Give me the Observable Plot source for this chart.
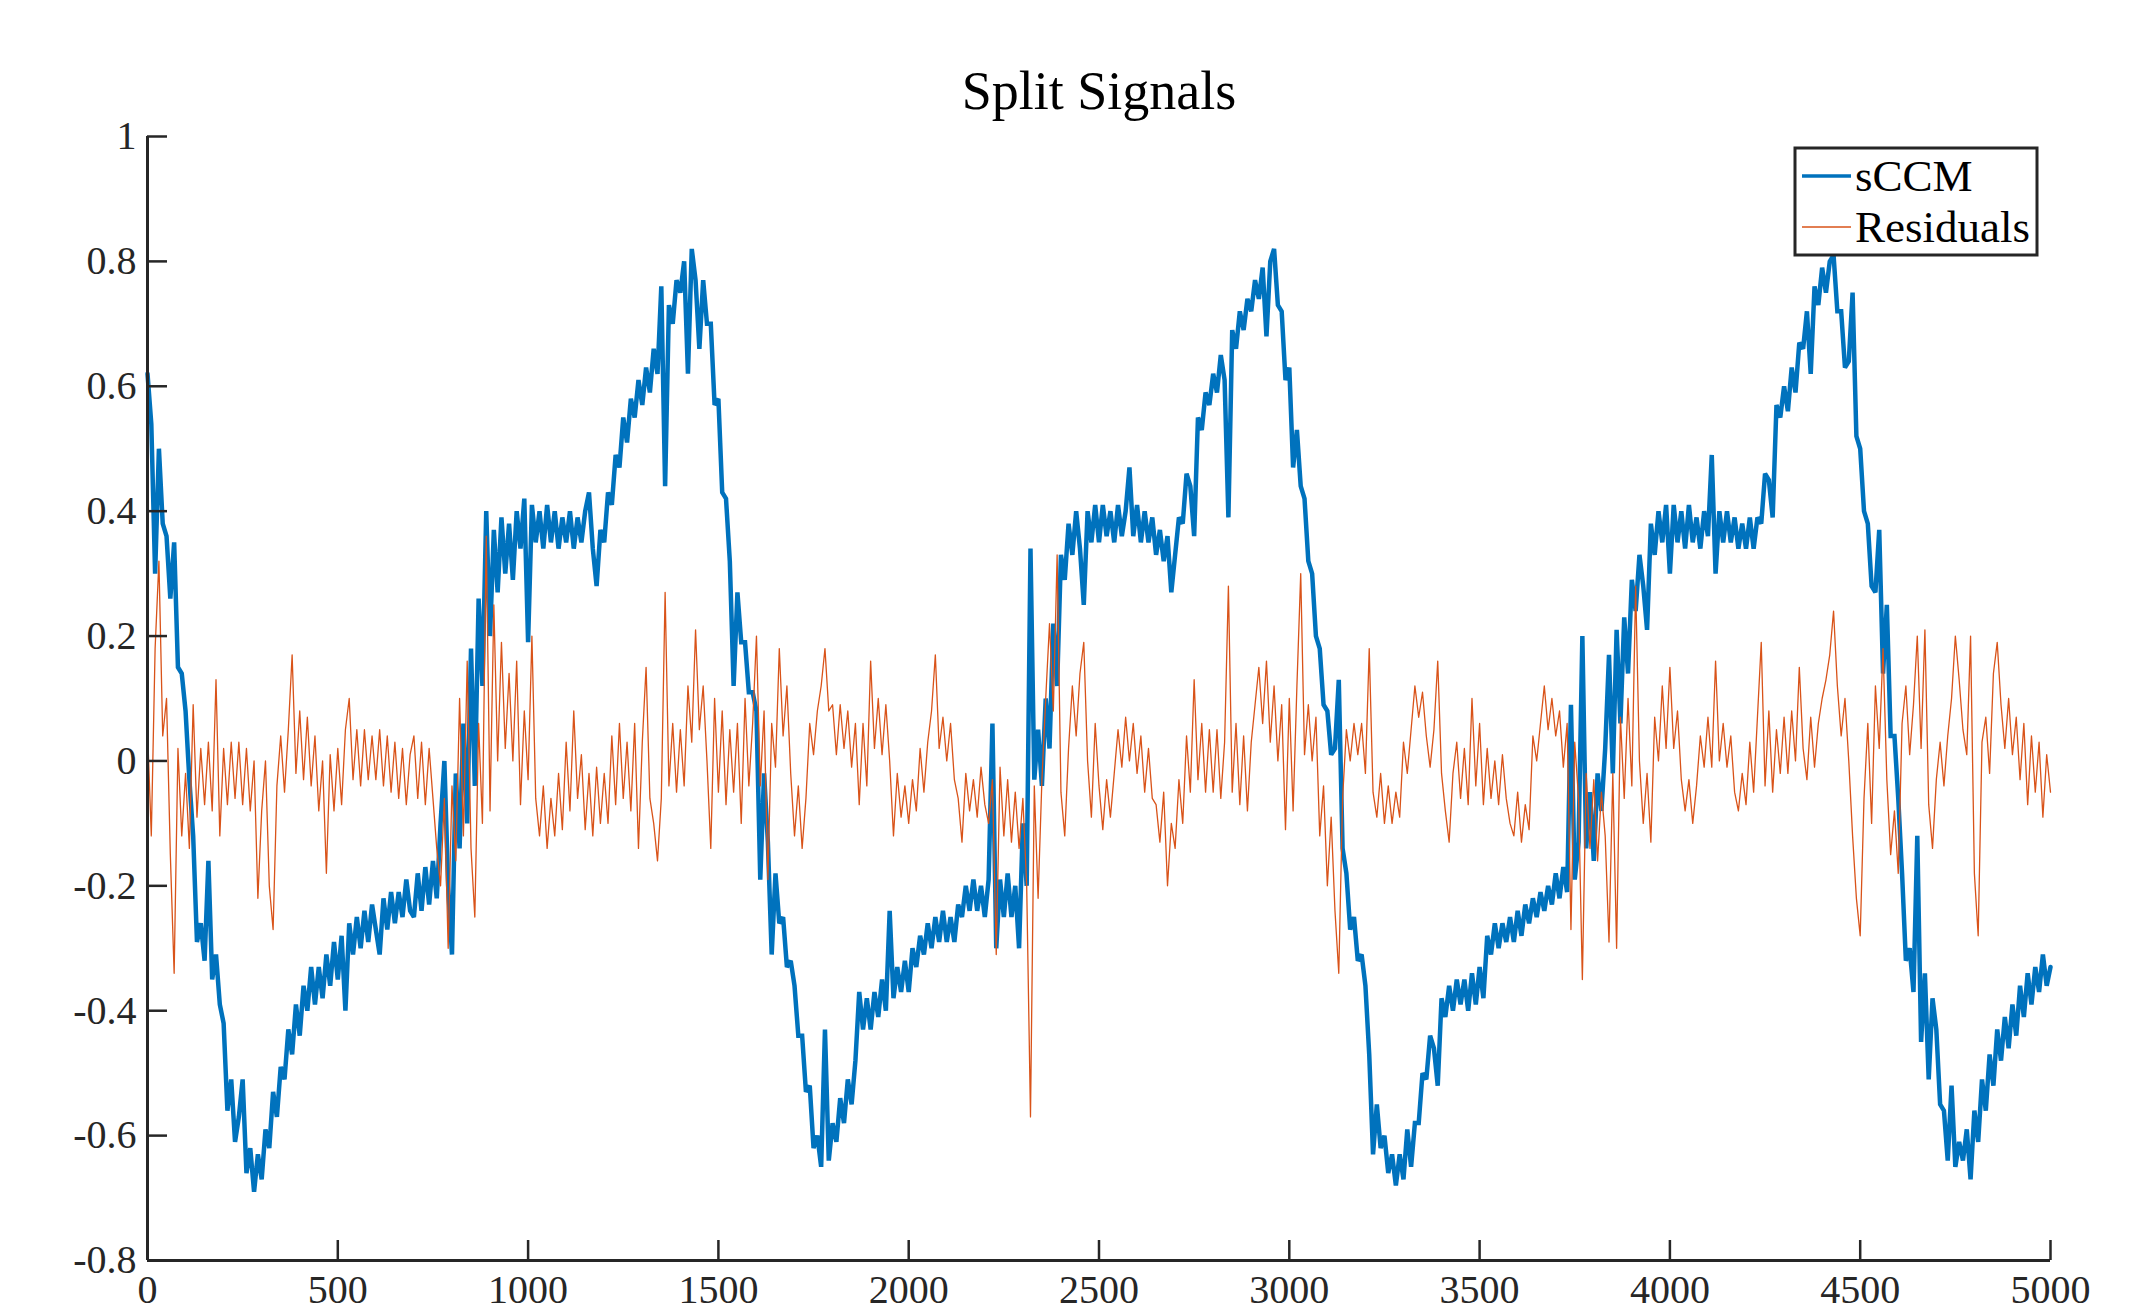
<!DOCTYPE html>
<html>
<head>
<meta charset="utf-8">
<script src="https://cdn.jsdelivr.net/npm/d3@7"></script>
<script src="https://cdn.jsdelivr.net/npm/@observablehq/plot@0.6"></script>
<style>
  html, body { margin: 0; padding: 0; background: #ffffff; }
  #chart svg { display: block; }
</style>
</head>
<body>
<div id="chart"></div>
<script>
const titleText = "Split Signals";
const seriesNames = ["sCCM", "Residuals"];
const sampleStep = 10;
const xTicks = [0, 500, 1000, 1500, 2000, 2500, 3000, 3500, 4000, 4500, 5000];
const yTicks = [-0.8, -0.6, -0.4, -0.2, 0, 0.2, 0.4, 0.6, 0.8, 1];

// sCCM, one value every 10 samples
const sccm = [
0.62,0.54,0.30,0.50,0.38,0.36,0.26,0.35,0.15,0.14,
0.08,-0.03,-0.12,-0.29,-0.26,-0.32,-0.16,-0.35,-0.31,-0.39,
-0.42,-0.56,-0.51,-0.61,-0.57,-0.51,-0.66,-0.62,-0.69,-0.63,
-0.67,-0.59,-0.62,-0.53,-0.57,-0.49,-0.51,-0.43,-0.47,-0.39,
-0.44,-0.36,-0.40,-0.33,-0.39,-0.33,-0.38,-0.31,-0.36,-0.29,
-0.35,-0.28,-0.40,-0.26,-0.31,-0.25,-0.30,-0.24,-0.29,-0.23,
-0.27,-0.31,-0.22,-0.27,-0.21,-0.26,-0.21,-0.25,-0.19,-0.24,
-0.25,-0.18,-0.24,-0.17,-0.23,-0.16,-0.22,-0.10,0.00,-0.20,
-0.31,-0.02,-0.14,0.06,-0.10,0.18,-0.04,0.26,0.12,0.40,
0.20,0.37,0.27,0.39,0.30,0.38,0.29,0.40,0.34,0.42,
0.19,0.41,0.35,0.40,0.34,0.41,0.35,0.40,0.34,0.39,
0.35,0.40,0.34,0.39,0.35,0.40,0.43,0.34,0.28,0.37,
0.35,0.43,0.41,0.49,0.47,0.55,0.51,0.58,0.55,0.61,
0.57,0.63,0.59,0.66,0.62,0.76,0.44,0.73,0.70,0.77,
0.75,0.80,0.62,0.82,0.77,0.66,0.77,0.70,0.70,0.57,
0.58,0.43,0.42,0.32,0.12,0.27,0.19,0.19,0.11,0.11,
0.08,-0.19,-0.02,-0.13,-0.31,-0.18,-0.26,-0.25,-0.33,-0.32,
-0.36,-0.44,-0.44,-0.53,-0.52,-0.62,-0.60,-0.65,-0.43,-0.64,
-0.58,-0.61,-0.54,-0.58,-0.51,-0.55,-0.48,-0.37,-0.43,-0.38,
-0.43,-0.37,-0.41,-0.35,-0.40,-0.24,-0.38,-0.33,-0.37,-0.32,
-0.37,-0.30,-0.33,-0.28,-0.31,-0.26,-0.30,-0.25,-0.29,-0.24,
-0.29,-0.25,-0.29,-0.23,-0.25,-0.20,-0.24,-0.19,-0.24,-0.20,
-0.25,-0.19,0.06,-0.30,-0.19,-0.25,-0.18,-0.25,-0.20,-0.30,
-0.10,-0.20,0.34,-0.03,0.05,-0.04,0.10,0.02,0.22,0.12,
0.33,0.29,0.38,0.33,0.40,0.34,0.25,0.40,0.35,0.41,
0.35,0.41,0.36,0.40,0.35,0.41,0.36,0.40,0.47,0.36,
0.41,0.35,0.40,0.35,0.39,0.33,0.37,0.32,0.36,0.27,
0.33,0.39,0.38,0.46,0.44,0.36,0.55,0.53,0.59,0.57,
0.62,0.59,0.65,0.61,0.39,0.69,0.66,0.72,0.69,0.74,
0.72,0.77,0.74,0.79,0.68,0.80,0.82,0.73,0.72,0.61,
0.63,0.47,0.53,0.44,0.42,0.32,0.30,0.20,0.18,0.09,
0.08,0.01,0.02,0.13,-0.14,-0.18,-0.27,-0.25,-0.32,-0.31,
-0.36,-0.47,-0.63,-0.55,-0.62,-0.60,-0.66,-0.63,-0.68,-0.63,
-0.67,-0.59,-0.65,-0.58,-0.58,-0.50,-0.51,-0.44,-0.46,-0.52,
-0.38,-0.41,-0.36,-0.40,-0.35,-0.39,-0.35,-0.40,-0.34,-0.39,
-0.33,-0.38,-0.28,-0.31,-0.26,-0.30,-0.26,-0.29,-0.25,-0.29,
-0.24,-0.28,-0.23,-0.26,-0.22,-0.25,-0.21,-0.24,-0.20,-0.23,
-0.18,-0.22,-0.17,-0.21,0.09,-0.19,-0.13,0.20,-0.14,-0.05,
-0.16,-0.02,-0.08,0.02,0.17,-0.02,0.21,0.06,0.23,0.14,
0.29,0.24,0.33,0.28,0.21,0.38,0.33,0.40,0.35,0.41,
0.30,0.41,0.35,0.40,0.34,0.41,0.35,0.39,0.34,0.40,
0.36,0.49,0.30,0.40,0.35,0.40,0.35,0.39,0.34,0.38,
0.34,0.39,0.34,0.39,0.38,0.46,0.45,0.39,0.57,0.55,
0.60,0.56,0.63,0.59,0.67,0.66,0.72,0.62,0.76,0.73,
0.79,0.75,0.80,0.81,0.72,0.72,0.63,0.64,0.75,0.52,
0.50,0.40,0.38,0.28,0.27,0.37,0.14,0.25,0.04,0.04,
-0.06,-0.18,-0.32,-0.30,-0.37,-0.12,-0.45,-0.34,-0.51,-0.38,
-0.43,-0.55,-0.56,-0.64,-0.52,-0.65,-0.61,-0.64,-0.59,-0.67,
-0.56,-0.61,-0.51,-0.56,-0.47,-0.52,-0.43,-0.48,-0.41,-0.46,
-0.39,-0.44,-0.36,-0.41,-0.34,-0.39,-0.33,-0.37,-0.31,-0.36,
-0.33
];

// Residuals, one value every 10 samples
const residuals = [
0.05,-0.12,0.18,0.32,0.04,0.10,-0.15,-0.34,0.02,-0.12,
-0.02,-0.14,0.09,-0.09,0.02,-0.07,0.03,-0.08,0.13,-0.12,
0.02,-0.07,0.03,-0.06,0.03,-0.07,0.02,-0.08,0.00,-0.22,
-0.08,0.00,-0.20,-0.27,-0.04,0.04,-0.05,0.05,0.17,-0.02,
0.08,-0.03,0.07,-0.04,0.04,-0.08,0.00,-0.18,0.01,-0.08,
0.02,-0.07,0.05,0.10,-0.03,0.05,-0.04,0.05,-0.03,0.04,
-0.03,0.05,-0.04,0.04,-0.05,0.03,-0.06,0.02,-0.07,0.01,
0.04,-0.06,0.03,-0.07,0.02,-0.06,-0.14,-0.20,-0.06,-0.30,
-0.04,-0.16,0.10,-0.12,0.16,-0.14,-0.25,0.06,-0.10,0.36,
-0.08,0.25,0.00,0.19,0.02,0.14,0.00,0.16,-0.07,0.08,
-0.03,0.20,-0.06,-0.12,-0.04,-0.14,-0.06,-0.12,-0.02,-0.11,
0.03,-0.08,0.08,-0.06,0.01,-0.11,-0.02,-0.12,-0.01,-0.10,
-0.02,-0.10,0.04,-0.07,0.06,-0.06,0.03,-0.08,0.06,-0.14,
0.03,0.15,-0.06,-0.10,-0.16,-0.06,0.27,-0.04,0.06,-0.05,
0.05,-0.04,0.12,0.03,0.21,0.05,0.12,0.00,-0.14,0.10,
-0.05,0.08,-0.07,0.05,-0.05,0.06,-0.10,0.10,-0.04,0.06,
0.20,-0.04,0.08,-0.19,0.06,-0.01,0.18,0.04,0.12,-0.02,
-0.12,-0.04,-0.14,-0.06,0.06,0.01,0.08,0.12,0.18,0.08,
0.09,0.01,0.09,0.02,0.08,-0.01,0.06,-0.07,0.06,-0.04,
0.16,0.02,0.10,0.01,0.09,0.00,-0.12,-0.02,-0.09,-0.04,
-0.10,-0.03,-0.08,0.02,-0.05,0.03,0.08,0.17,0.02,0.07,
0.00,0.06,-0.03,-0.06,-0.13,-0.02,-0.08,-0.03,-0.09,-0.01,
-0.07,-0.10,-0.03,-0.31,-0.01,-0.12,-0.03,-0.13,-0.05,-0.14,
-0.06,-0.20,-0.57,-0.04,-0.22,-0.03,0.10,0.22,0.08,0.33,
-0.05,-0.12,0.02,0.12,0.04,0.14,0.19,0.00,-0.09,0.06,
-0.04,-0.11,-0.03,-0.09,-0.02,0.05,-0.01,0.07,0.00,0.06,
-0.02,0.04,-0.05,0.02,-0.06,-0.07,-0.13,-0.05,-0.20,-0.10,
-0.14,-0.03,-0.10,0.04,-0.05,0.13,-0.03,0.06,-0.05,0.05,
-0.05,0.05,-0.06,0.03,0.28,-0.05,0.06,-0.07,0.04,-0.08,
0.03,0.09,0.15,0.06,0.16,0.03,0.12,0.00,0.09,-0.11,
0.10,-0.08,0.12,0.30,0.01,0.09,0.00,0.07,-0.12,-0.04,
-0.20,-0.09,-0.24,-0.34,-0.06,0.05,0.00,0.06,0.01,0.06,
-0.02,0.18,-0.05,-0.09,-0.02,-0.10,-0.04,-0.10,-0.05,-0.09,
0.03,-0.02,0.05,0.12,0.07,0.11,0.04,-0.01,0.05,0.16,
-0.02,-0.08,-0.13,-0.02,0.03,-0.06,0.02,-0.07,0.10,-0.04,
0.06,-0.07,0.02,-0.06,0.00,-0.07,0.01,-0.06,-0.10,-0.12,
-0.05,-0.13,-0.07,-0.11,0.04,0.00,0.06,0.12,0.05,0.10,
0.04,0.08,-0.01,0.06,-0.27,0.03,-0.06,-0.35,-0.02,-0.14,
-0.03,-0.16,-0.05,-0.12,-0.29,-0.02,-0.30,0.07,-0.06,0.10,
-0.04,0.28,0.00,-0.10,-0.02,-0.13,0.07,0.00,0.12,0.02,
0.15,0.02,0.08,-0.03,-0.08,-0.03,-0.10,-0.04,0.04,-0.01,
0.07,-0.01,0.16,0.00,0.06,-0.01,0.04,-0.05,-0.08,-0.02,
-0.07,0.03,-0.05,0.07,0.19,-0.04,0.08,-0.05,0.05,-0.02,
0.07,-0.02,0.08,0.00,0.15,0.02,-0.03,0.07,-0.01,0.06,
0.10,0.13,0.17,0.24,0.12,0.04,0.10,0.00,-0.12,-0.22,
-0.28,-0.06,0.06,-0.10,0.12,0.02,0.18,-0.03,-0.15,-0.08,
-0.18,0.06,0.12,0.01,0.09,0.20,0.02,0.21,-0.07,-0.14,
-0.03,0.03,-0.04,0.04,0.10,0.20,0.13,0.05,0.01,0.20,
-0.18,-0.28,0.03,0.07,-0.02,0.14,0.19,0.09,0.02,0.10,
0.01,0.07,-0.03,0.06,-0.07,0.04,-0.05,0.03,-0.09,0.01,
-0.05
];

const colors = ["#0072BD", "#D95319"];
const lineWidths = [4.5, 1.3];
const axisColor = "#262626";
const fontFamily = "'Liberation Serif', 'Times New Roman', serif";

const W = 2129, H = 1315;
const mL = 147, mR = 79, mT = 136, mB = 55;
const xDomain = [xTicks[0], xTicks[xTicks.length - 1]];
const yDomain = [yTicks[0], yTicks[yTicks.length - 1]];
const tickPx = 20;
const xTickLen = tickPx * (xDomain[1] - xDomain[0]) / (W - mL - mR);
const yTickLen = tickPx * (yDomain[1] - yDomain[0]) / (H - mT - mB);

const blueData = sccm.map((v, i) => ({t: i * sampleStep, v}));
const orangeData = residuals.map((v, i) => ({t: i * sampleStep, v}));

const fmt = d => String(d);

const chart = Plot.plot({
  width: W,
  height: H,
  marginLeft: mL,
  marginRight: mR,
  marginTop: mT,
  marginBottom: mB,
  x: {domain: xDomain},
  y: {domain: yDomain},
  style: {fontFamily, background: "#ffffff", color: axisColor},
  marks: [
    Plot.line(blueData, {x: "t", y: "v", stroke: colors[0], strokeWidth: lineWidths[0], strokeLinejoin: "miter", strokeMiterlimit: 2}),
    Plot.line(orangeData, {x: "t", y: "v", stroke: colors[1], strokeWidth: lineWidths[1]}),
    Plot.ruleX([xDomain[0]], {y1: yDomain[0], y2: yDomain[1], stroke: axisColor, strokeWidth: 3}),
    Plot.ruleY([yDomain[0]], {x1: xDomain[0], x2: xDomain[1], stroke: axisColor, strokeWidth: 3}),
    Plot.ruleY(yTicks, {x1: xDomain[0], x2: xDomain[0] + xTickLen, stroke: axisColor, strokeWidth: 2.5}),
    Plot.ruleX(xTicks, {y1: yDomain[0], y2: yDomain[0] + yTickLen, stroke: axisColor, strokeWidth: 2.5}),
    Plot.axisY({ticks: yTicks, tickSize: 0, tickPadding: 11, fontSize: 40, tickFormat: fmt, label: null, fill: axisColor}),
    Plot.axisX({ticks: xTicks, tickSize: 0, tickPadding: 14, fontSize: 40, tickFormat: fmt, label: null, fill: axisColor}),
    Plot.text([titleText], {frameAnchor: "top", dy: -28, lineAnchor: "bottom", fontSize: 54, fill: "#000000", text: d => d})
  ]
});

document.getElementById("chart").appendChild(chart);

// Legend (boxed, top-right inside the axes)
const svg = d3.select(chart);
const lg = svg.append("g").attr("font-family", fontFamily);
const box = {x: 1795, y: 148, w: 242, h: 107};
lg.append("rect")
  .attr("x", box.x).attr("y", box.y).attr("width", box.w).attr("height", box.h)
  .attr("fill", "#ffffff").attr("stroke", axisColor).attr("stroke-width", 3);
const rowsY = [176, 227];
const legendWidths = [3.4, 1.3];
seriesNames.forEach((name, i) => {
  lg.append("line")
    .attr("x1", box.x + 7).attr("x2", box.x + 56)
    .attr("y1", rowsY[i]).attr("y2", rowsY[i])
    .attr("stroke", colors[i]).attr("stroke-width", legendWidths[i]);
  lg.append("text")
    .attr("x", box.x + 60).attr("y", rowsY[i])
    .attr("dy", "0.34em")
    .attr("text-anchor", "start")
    .attr("font-size", 45)
    .attr("fill", "#000000")
    .text(name);
});
</script>
</body>
</html>
